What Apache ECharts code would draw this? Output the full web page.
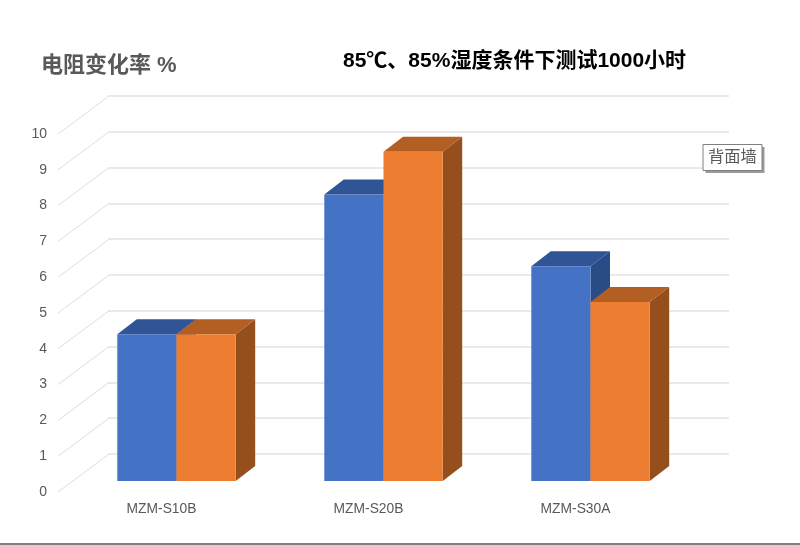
<!DOCTYPE html>
<html>
<head>
<meta charset="utf-8">
<style>html,body{margin:0;padding:0;background:#fff}#c{width:800px;height:545px}</style>
<script src="https://cdn.jsdelivr.net/npm/echarts@6/dist/echarts.min.js"></script>
</head>
<body>
<div id="c"></div>
<script>
const categories = ['MZM-S10B', 'MZM-S20B', 'MZM-S30A'];
const seriesA = [4.1, 8.0, 6.0];
const seriesB = [4.1, 9.2, 5.0];
const tickValues = [0, 1, 2, 3, 4, 5, 6, 7, 8, 9, 10];
const yTitle = '电阻变化率 %';
const chartTitle = '85℃、85%湿度条件下测试1000小时';
const tipText = '背面墙';

const FONT = '"Liberation Sans","Noto Sans CJK SC",sans-serif';
const BAR_W = 59.2, BAR_DX = 19.5, BAR_DY = 15;
const WALL_DX = 51, WALL_DY = 38;
const paletteA = { front: '#4472C4', top: '#2F5597', side: '#2A4C86' };
const paletteB = { front: '#ED7D31', top: '#B35E22', side: '#954F1C' };

function barRenderer(pal, side) {
  return function (params, api) {
    const top = api.coord([api.value(0), api.value(1)]);
    const base = api.coord([api.value(0), 0]);
    const x0 = side < 0 ? top[0] - BAR_W : top[0];
    const x1 = x0 + BAR_W, yt = top[1], yb = base[1];
    const dx = BAR_DX, dy = BAR_DY;
    return { type: 'group', children: [
      { type: 'polygon', shape: { points: [[x1, yt], [x1 + dx, yt - dy], [x1 + dx, yb - dy], [x1, yb]] }, style: { fill: pal.side } },
      { type: 'polygon', shape: { points: [[x0, yt], [x0 + dx, yt - dy], [x1 + dx, yt - dy], [x1, yt]] }, style: { fill: pal.top } },
      { type: 'rect', shape: { x: x0, y: yt, width: BAR_W, height: yb - yt }, style: { fill: pal.front } }
    ] };
  };
}

const chart = echarts.init(document.getElementById('c'), null, { renderer: 'canvas' });
const plane = { width: 621, height: 358 };
chart.setOption({
  animation: false,
  backgroundColor: '#fff',
  title: [
    { text: yTitle, left: 41, top: 55, padding: 0,
      textStyle: { fontFamily: FONT, fontSize: 22, fontWeight: 'bold', color: '#595959' } },
    { text: chartTitle, left: 343, top: 51, padding: 0,
      textStyle: { fontFamily: FONT, fontSize: 21, fontWeight: 'bold', color: '#000' } }
  ],
  grid: [
    Object.assign({ left: 58, top: 134 }, plane),   // front plane: axis labels
    Object.assign({ left: 108, top: 96 }, plane),   // back wall: gridlines
    Object.assign({ left: 73, top: 123 }, plane)    // bar front plane
  ],
  xAxis: [
    { gridIndex: 0, type: 'category', data: categories, axisLine: { show: false }, axisTick: { show: false },
      axisLabel: { margin: 10, fontFamily: FONT, fontSize: 13.8, color: '#595959' } },
    { gridIndex: 1, type: 'category', data: categories, show: false },
    { gridIndex: 2, type: 'category', data: categories, show: false }
  ],
  yAxis: [
    { gridIndex: 0, type: 'value', min: 0, max: 10, interval: 1, splitLine: { show: false },
      axisLine: { show: false }, axisTick: { show: false },
      axisLabel: { margin: 11, fontFamily: FONT, fontSize: 14, color: '#595959' } },
    { gridIndex: 1, type: 'value', min: 0, max: 10, interval: 1, axisLine: { show: false }, axisTick: { show: false },
      axisLabel: { show: false }, splitLine: { show: true, lineStyle: { color: '#E3E3E3', width: 1.5 } } },
    { gridIndex: 2, type: 'value', min: 0, max: 10, interval: 1, show: false, splitLine: { show: false } }
  ],
  series: [
    { type: 'custom', name: 'wall-diagonals', xAxisIndex: 0, yAxisIndex: 0, silent: true, z: 1,
      data: tickValues.map(v => [0, v]), clip: false,
      renderItem: function (params, api) {
        const y = api.coord([0, api.value(1)])[1];
        const x = params.coordSys.x;
        return { type: 'line', shape: { x1: x, y1: y, x2: x + WALL_DX, y2: y - WALL_DY },
          style: { stroke: '#DEDEDE', lineWidth: 1, fill: null } };
      } },
    { type: 'custom', name: 'A', xAxisIndex: 2, yAxisIndex: 2, silent: true, z: 3, clip: false,
      data: seriesA.map((v, i) => [i, v]), renderItem: barRenderer(paletteA, -1) },
    { type: 'custom', name: 'B', xAxisIndex: 2, yAxisIndex: 2, silent: true, z: 4, clip: false,
      data: seriesB.map((v, i) => [i, v]), renderItem: barRenderer(paletteB, 1) }
  ],
  graphic: [
    { type: 'rect', left: 0, top: 543, shape: { width: 800, height: 2 }, style: { fill: '#7F7F7F' }, silent: true },
    { type: 'rect', left: 705.5, top: 147, z: 20, silent: true, shape: { width: 59, height: 26 }, style: { fill: '#9A9A9A' } },
    { type: 'rect', left: 702.5, top: 144, z: 21, silent: true, shape: { width: 59, height: 26 }, style: { fill: '#fff', stroke: '#808080', lineWidth: 1 } },
    { type: 'text', left: 708, top: 149, z: 22, silent: true, style: { text: tipText, font: '16.3px ' + FONT, fill: '#595959' } }
  ]
});
</script>
</body>
</html>
